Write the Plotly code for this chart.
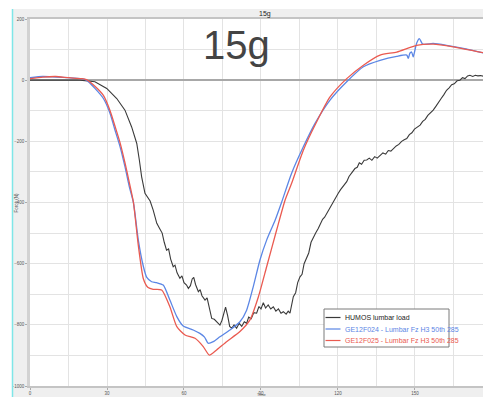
import plotly.graph_objects as go

# ---------------- data ----------------
humos_t = [0, 10, 19.5, 25.3, 29.9, 33.8, 37, 39.6, 41.6, 42.6,
           43.5, 44.8, 46.0, 46.8, 48.0, 48.7, 49.4, 50.5, 51.5, 52.3,
           53.2, 54.0, 54.8, 55.8, 56.5, 57.3, 58.4, 59.2, 60.0, 61.0,
           61.7, 62.5, 63.2, 63.8, 64.5, 65.6, 66.3, 67.0, 68.2, 69.0,
           69.8, 70.8, 71.8, 72.8, 74.0, 74.8, 75.5, 76.2, 77.0, 77.8,
           78.6, 79.5, 80.5, 81.5, 82.5, 83.5, 84.4, 85.2, 86.2, 87.2,
           88.3, 89.2, 90.0, 90.9, 91.8, 92.8, 93.8, 94.8, 95.8, 96.8,
           97.8, 98.7, 99.8, 100.6, 101.3, 102.0, 102.6, 103.5, 104.3, 105.2,
           106.0, 106.8, 107.8, 108.6, 109.5, 110.4, 111.3, 112.3, 113.2, 114.0,
           114.8, 115.6, 116.5, 117.5, 118.3, 119.2, 120.1, 121.0, 121.8, 122.6,
           123.4, 124.3, 125.2, 126.0, 126.6, 127.5, 128.3, 129.2, 130.2, 131.2,
           132.2, 133.2, 134.3, 135.3, 136.4, 137.5, 138.6, 139.6, 140.6, 141.6,
           142.7, 143.7, 144.8, 145.8, 146.8, 147.8, 148.8, 149.8, 150.8, 152.0,
           153.0, 154.0, 155.0, 156.0, 157.1, 158.2, 159.2, 160.2, 161.2, 162.3,
           163.3, 164.3, 165.3, 166.4, 167.5, 168.5, 169.5, 170.5, 171.4, 172.5,
           173.5, 174.5, 175.5, 176.5]
humos_f = [0, 0, 0, -5, -27, -60, -98, -153, -207, -261,
           -316, -370, -385, -395, -425, -447, -468, -485, -500, -530,
           -556, -552, -585, -610, -605, -630, -648, -640, -662, -670,
           -681, -672, -650, -645, -668, -692, -685, -705, -719, -712,
           -740, -779, -782, -790, -801, -785, -760, -742, -770, -805,
           -811, -800, -811, -795, -805, -790, -795, -775, -780, -760,
           -762, -740, -748, -728, -745, -735, -748, -741, -755, -748,
           -762, -757, -765, -755, -762, -735, -708, -695, -662, -643,
           -635, -600, -577, -565, -530, -512, -500, -485, -470, -455,
           -448, -436, -420, -405, -395, -380, -370, -358, -350, -340,
           -332, -315, -305, -295, -289, -285, -270, -275, -262, -261,
           -255, -262, -250, -255, -245, -238, -242, -230, -232, -223,
           -215, -210, -200, -195, -191, -178, -172, -160, -155, -147,
           -135, -128, -115, -108, -98, -85, -70, -60, -48, -33,
           -25, -15, -12, -2, 0, 8, 5, 14, 16, 12,
           16, 14, 15, 13]

ge024_t = [0, 5, 10, 15, 20, 22, 25.3, 28.6, 31.2, 33.1,
           35.1, 37, 38.7, 40.3, 42.2, 44.2, 45.5, 47.4, 49.3, 51.9,
           54.5, 57.2, 59.7, 63.6, 66.2, 68, 69.4, 71.4, 74, 77.9,
           81.8, 84.4, 87, 89.6, 92.2, 95.5, 98, 101.9, 106.5, 111,
           116.9, 123.4, 129.9, 136.4, 142.9, 146.8, 147.4, 148, 148.7, 149.3,
           150.6, 151.7, 153, 157.1, 162.3, 168.8, 176.5]
ge024_f = [8, 12, 10, 8, 5, 0, -27, -60, -109, -163,
           -218, -283, -349, -400, -523, -610, -645, -659, -662, -670,
           -719, -773, -804, -817, -828, -840, -860, -855, -839, -817,
           -790, -752, -675, -588, -523, -458, -400, -305, -218, -142,
           -65, -5, 44, 65, 78, 82, 71, 88, 92, 76,
           120, 136, 118, 120, 114, 104, 89]

ge025_t = [0, 5, 10, 15, 20, 22, 25.3, 28.6, 31.2, 33.1,
           35.1, 37, 38.7, 40.3, 42.2, 44.2, 46, 48, 51.3, 54.5,
           57.2, 60.4, 64.3, 67.5, 69.9, 72.7, 76.6, 81.8, 85.7, 89,
           92.2, 96.1, 99.4, 101.9, 106.5, 111.7, 116.9, 123.4, 129.9, 136.4,
           142.9, 150.6, 157.1, 164.9, 176.5]
ge025_f = [5, 10, 12, 8, 5, 2, -20, -50, -100, -150,
           -205, -270, -335, -400, -540, -650, -678, -684, -686, -741,
           -806, -833, -844, -871, -899, -882, -855, -822, -784, -708,
           -610, -490, -392, -338, -229, -136, -55, 5, 49, 82,
           92, 114, 118, 109, 90]

names = ["HUMOS lumbar load",
         "GE12F024 - Lumbar Fz H3 50th 285",
         "GE12F025 - Lumbar Fz H3 50th 285"]
colors = ["#3a3a3a", "#5b86e5", "#ea5a50"]

# ---------------- geometry helpers (pixel -> paper) ----------------
W, H = 483, 397
ML, MR, MT, MB = 30, 0, 19, 11
PW, PH = W - ML - MR, H - MT - MB


def px(x):
    return (x - ML) / PW


def py(y):
    return (H - MB - y) / PH


FONT = "Liberation Sans Narrow, Liberation Sans, Arial, sans-serif"

fig = go.Figure()
fig.add_trace(go.Scatter(x=humos_t, y=humos_f, mode="lines", name=names[0],
                         line=dict(color=colors[0], width=1.1), showlegend=False))
fig.add_trace(go.Scatter(x=ge024_t, y=ge024_f, mode="lines", name=names[1],
                         line=dict(color=colors[1], width=1.3, shape="spline", smoothing=0.6),
                         showlegend=False))
fig.add_trace(go.Scatter(x=ge025_t, y=ge025_f, mode="lines", name=names[2],
                         line=dict(color=colors[2], width=1.3, shape="spline", smoothing=0.6),
                         showlegend=False))

shapes = [
    # white strip at far left and top
    dict(type="rect", xref="paper", yref="paper", x0=px(-5), x1=px(12), y0=py(H + 5), y1=py(-5),
         fillcolor="white", line=dict(width=0), layer="above"),
    dict(type="rect", xref="paper", yref="paper", x0=px(-5), x1=px(W + 5), y0=py(9), y1=py(-5),
         fillcolor="white", line=dict(width=0), layer="above"),
    # cyan frame line
    dict(type="line", xref="paper", yref="paper", x0=px(12.5), x1=px(12.5), y0=py(H + 2), y1=py(9),
         line=dict(color="#7fe6e8", width=1.5)),
    # legend box
    dict(type="rect", xref="paper", yref="paper", x0=px(324), x1=px(449), y0=py(347), y1=py(309),
         fillcolor="white", line=dict(color="#7a7a7a", width=1)),
]
legend_y = [317.5, 329, 340.5]
annotations = []
for i in range(3):
    shapes.append(dict(type="line", xref="paper", yref="paper", x0=px(325.5), x1=px(340.5),
                       y0=py(legend_y[i]), y1=py(legend_y[i]),
                       line=dict(color=colors[i], width=1.2)))
    annotations.append(dict(xref="paper", yref="paper", x=px(342.5), y=py(legend_y[i]),
                            text=names[i], showarrow=False, xanchor="left", yanchor="middle",
                            font=dict(family=FONT, size=7, color=colors[i] if i else "#222")))

annotations += [
    dict(xref="paper", yref="paper", x=px(265), y=py(14), text="15g", showarrow=False,
         xanchor="center", yanchor="middle", font=dict(family=FONT, size=7, color="#222")),
    dict(xref="paper", yref="paper", x=px(236), y=py(45), text="15g", showarrow=False,
         xanchor="center", yanchor="middle", font=dict(family=FONT, size=40, color="#444")),
    dict(xref="paper", yref="paper", x=px(262), y=py(394.6), text="Time", showarrow=False,
         xanchor="center", yanchor="middle", font=dict(family=FONT, size=4, color="#555")),
    dict(xref="paper", yref="paper", x=px(15.5), y=py(203), text="Force (N)", showarrow=False,
         textangle=-90, xanchor="center", yanchor="middle",
         font=dict(family=FONT, size=4.5, color="#555")),
]

fig.update_layout(
    width=W, height=H,
    margin=dict(l=ML, r=MR, t=MT, b=MB, autoexpand=False),
    paper_bgcolor="#efefef",
    plot_bgcolor="white",
    showlegend=False,
    shapes=shapes,
    annotations=annotations,
    xaxis=dict(range=[0, 176.5], dtick=30, tick0=0, showgrid=True, gridcolor="#e3e3e3",
               gridwidth=1, minor=dict(dtick=15, showgrid=True, gridcolor="#e3e3e3", gridwidth=1),
               zeroline=False, showline=True, linecolor="#c4c4c4", linewidth=1.5, mirror=True,
               ticks="outside", ticklen=2, tickcolor="#aaa",
               tickfont=dict(family=FONT, size=4.5, color="#555"), automargin=False),
    yaxis=dict(range=[-1000, 200], dtick=200, tick0=0, showgrid=True, gridcolor="#e3e3e3",
               gridwidth=1, minor=dict(dtick=100, showgrid=True, gridcolor="#e3e3e3", gridwidth=1),
               zeroline=True, zerolinecolor="#a8a8a8", zerolinewidth=2,
               showline=True, linecolor="#d2d2d2", linewidth=2.5,
               ticks="outside", ticklen=2, tickcolor="#aaa",
               tickfont=dict(family=FONT, size=4.5, color="#555"), automargin=False),
)

fig.write_html("out.html", config={"displayModeBar": False},
               post_script="document.body.style.margin='0';")
